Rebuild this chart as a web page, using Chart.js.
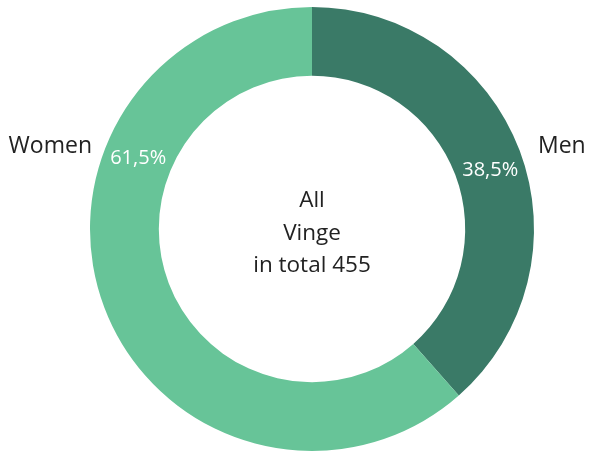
<!DOCTYPE html>
<html>
<head>
<meta charset="utf-8">
<script src="https://cdn.jsdelivr.net/npm/chart.js@4/dist/chart.umd.min.js"></script>
<style>
html,body{margin:0;padding:0;background:#fff;}
#wrap{width:591px;height:453px;}
</style>
</head>
<body>
<div id="wrap"><canvas id="c" width="591" height="453"></canvas></div>
<script>
const categories = ["Men", "Women"];
const values = [38.5, 61.5];
const valueLabels = ["38,5%", "61,5%"];
const centerLines = ["All", "Vinge", "in total 455"];
const colors = ["#3a7a67", "#67c498"];

const FONT = "'Open Sans', sans-serif";

const textPlugin = {
  id: 'texts',
  afterDatasetsDraw(chart) {
    const ctx = chart.ctx;
    const arc = chart.getDatasetMeta(0).data[0];
    const cx = arc.x, cy = arc.y;
    const R = arc.outerRadius, r = arc.innerRadius;
    const mid = (R + r) / 2;
    ctx.save();
    ctx.textBaseline = 'middle';
    // centre text
    ctx.fillStyle = '#222';
    ctx.textAlign = 'center';
    ctx.font = '22.5px ' + FONT;
    const lh = 32.5;
    centerLines.forEach((t, i) => {
      ctx.fillText(t, cx, cy - 28 + i * lh);
    });
    // percentage labels inside ring
    ctx.fillStyle = '#ffffff';
    ctx.font = '20px ' + FONT;
    const angles = [71.8, -67.9];
    valueLabels.forEach((t, i) => {
      const a = angles[i] * Math.PI / 180;
      ctx.fillText(t, cx + mid * Math.sin(a), cy - mid * Math.cos(a));
    });
    // category labels outside
    ctx.fillStyle = '#222';
    ctx.font = '23px ' + FONT;
    ctx.textAlign = 'left';
    ctx.fillText(categories[0], cx + R + 4, cy - 83);
    ctx.textAlign = 'right';
    ctx.fillText(categories[1], cx - R + 2, cy - 83);
    ctx.restore();
  }
};

new Chart(document.getElementById('c'), {
  type: 'doughnut',
  data: {
    labels: categories,
    datasets: [{
      data: values,
      backgroundColor: colors,
      borderWidth: 0
    }]
  },
  options: {
    responsive: false,
    animation: false,
    cutout: '69%',
    layout: { padding: { left: 33, right: 0, top: 7, bottom: 2 } },
    plugins: {
      legend: { display: false },
      tooltip: { enabled: false }
    }
  },
  plugins: [textPlugin]
});
</script>
</body>
</html>
